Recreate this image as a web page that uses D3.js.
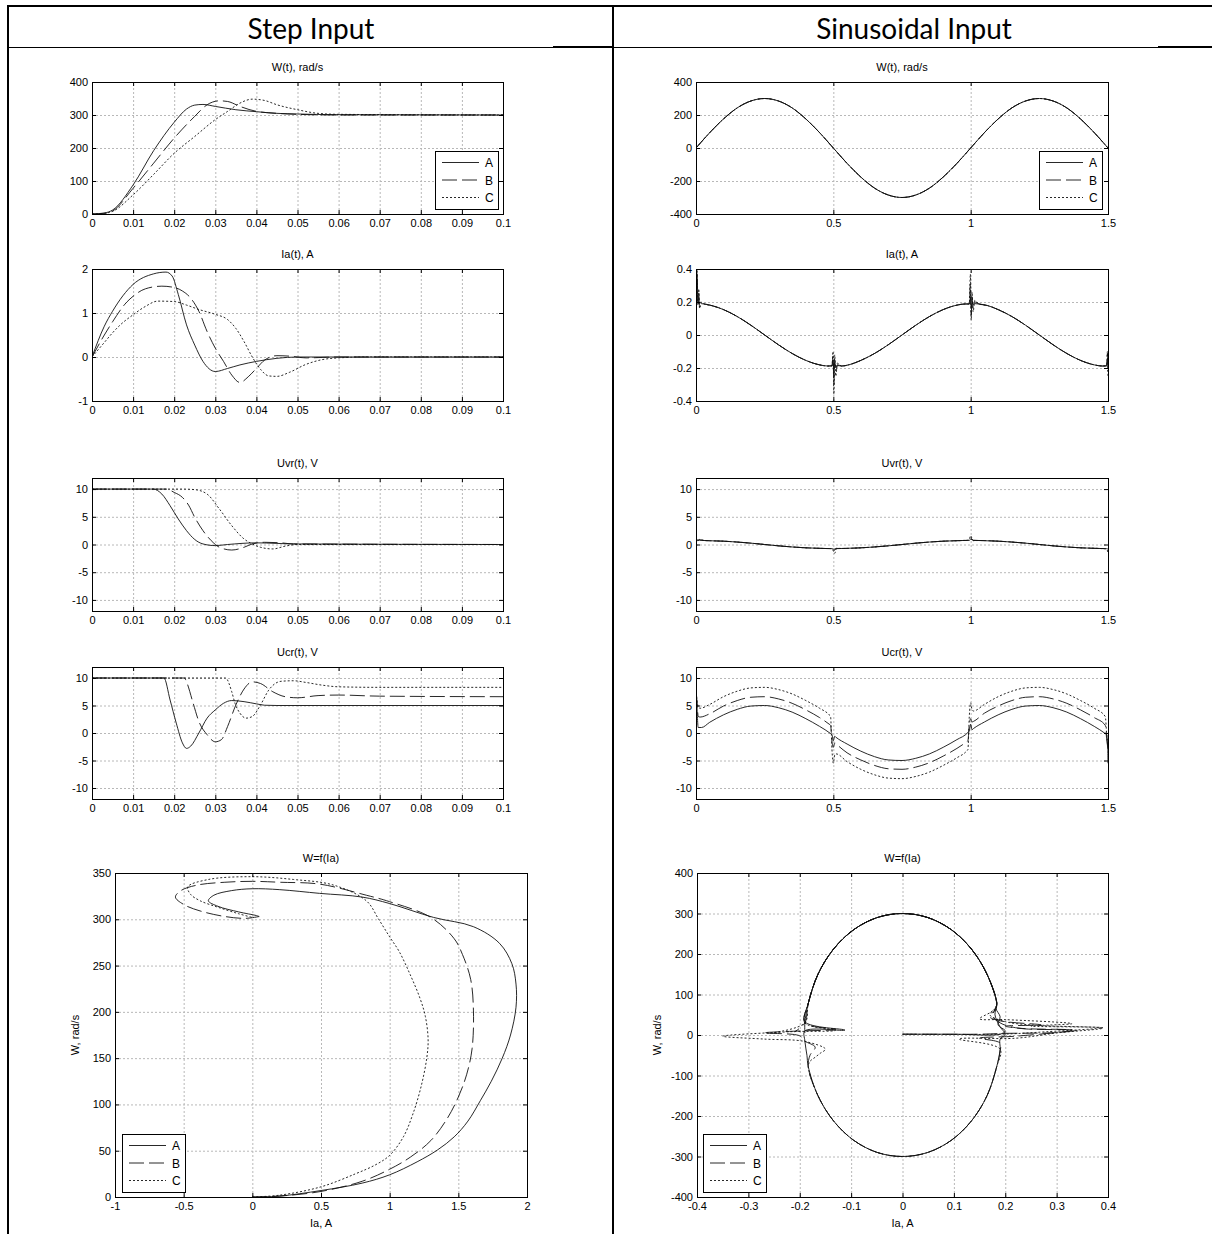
<!DOCTYPE html>
<html>
<head>
<meta charset="utf-8">
<script src="https://cdn.jsdelivr.net/npm/d3@7"></script>
<style>
  body { margin: 0; background: #fff; }
  svg { display: block; }
</style>
</head>
<body>
<svg id="page" width="1212" height="1234"></svg>
<script>
// ---- tick values ----
const stepTimeTicks = [0, 0.01, 0.02, 0.03, 0.04, 0.05, 0.06, 0.07, 0.08, 0.09, 0.1];
const sinTimeTicks = [0, 0.5, 1, 1.5];
const stepWTicks = [0, 100, 200, 300, 400];
const stepIaTicks = [-1, 0, 1, 2];
const voltTicks = [-10, -5, 0, 5, 10];
const sinWTicks = [-400, -200, 0, 200, 400];
const sinIaTicks = [-0.4, -0.2, 0, 0.2, 0.4];
const stepPhaseXTicks = [-1, -0.5, 0, 0.5, 1, 1.5, 2];
const stepPhaseYTicks = [0, 50, 100, 150, 200, 250, 300, 350];
const sinPhaseXTicks = [-0.4, -0.3, -0.2, -0.1, 0, 0.1, 0.2, 0.3, 0.4];
const sinPhaseYTicks = [-400, -300, -200, -100, 0, 100, 200, 300, 400];
const legendNames = ["A", "B", "C"];

// ---- step input: W(t) ----
const stepW_A = [[0,0],[0.003,3],[0.005,12],[0.01,88],[0.015,192],[0.02,278],[0.023,318],[0.025,330],[0.027,332],[0.03,326],[0.035,316],[0.04,310],[0.045,305],[0.05,303],[0.06,301],[0.1,300]];
const stepW_B = [[0,0],[0.003,2],[0.005,9],[0.01,78],[0.015,154],[0.02,230],[0.025,296],[0.028,331],[0.031,343],[0.033,341],[0.036,326],[0.04,311],[0.045,305],[0.05,302],[0.06,300],[0.1,300]];
const stepW_C = [[0,0],[0.003,2],[0.005,8],[0.01,58],[0.015,120],[0.02,184],[0.025,235],[0.03,286],[0.033,311],[0.036,336],[0.039,348],[0.042,344],[0.045,331],[0.05,316],[0.055,305],[0.06,302],[0.1,300]];

// ---- step input: Ia(t) ----
const stepIa_A = [[0,0],[0.003,0.7],[0.005,1.04],[0.01,1.65],[0.015,1.89],[0.018,1.93],[0.0195,1.84],[0.021,1.42],[0.023,0.73],[0.025,0.27],[0.027,-0.1],[0.03,-0.33],[0.033,-0.26],[0.036,-0.18],[0.04,-0.1],[0.045,-0.03],[0.05,0],[0.1,0]];
const stepIa_B = [[0,0],[0.003,0.5],[0.005,0.8],[0.008,1.2],[0.01,1.38],[0.013,1.55],[0.017,1.61],[0.02,1.58],[0.022,1.5],[0.024,1.34],[0.026,1.04],[0.028,0.58],[0.03,0.2],[0.032,-0.1],[0.034,-0.41],[0.036,-0.58],[0.038,-0.45],[0.04,-0.26],[0.042,-0.07],[0.045,0.03],[0.048,0.02],[0.052,-0.02],[0.06,0],[0.1,0]];
const stepIa_C = [[0,0],[0.003,0.33],[0.005,0.55],[0.007,0.74],[0.01,0.96],[0.013,1.15],[0.016,1.27],[0.02,1.26],[0.023,1.18],[0.026,1.08],[0.03,0.97],[0.033,0.85],[0.035,0.65],[0.037,0.35],[0.039,0],[0.041,-0.28],[0.043,-0.43],[0.045,-0.44],[0.048,-0.35],[0.052,-0.17],[0.056,-0.06],[0.06,-0.02],[0.067,0],[0.1,0]];

// ---- step input: Uvr(t) ----
const stepUvr_A = [[0,10],[0.0149,10],[0.017,9.1],[0.019,7],[0.021,4.6],[0.023,2.5],[0.025,0.9],[0.027,0.1],[0.03,-0.2],[0.033,0],[0.04,0.3],[0.045,0.2],[0.049,0.1],[0.1,0]];
const stepUvr_B = [[0,10],[0.018,10],[0.02,9.4],[0.022,8.5],[0.0235,7.1],[0.025,4.9],[0.027,2.5],[0.029,0.7],[0.031,-0.5],[0.034,-1],[0.037,-0.5],[0.039,0.1],[0.042,0.4],[0.046,0.3],[0.049,0.1],[0.1,0]];
const stepUvr_C = [[0,10],[0.022,10],[0.025,9.9],[0.028,9.1],[0.031,6.4],[0.034,3.4],[0.037,1],[0.039,0.1],[0.041,-0.5],[0.044,-0.8],[0.047,-0.3],[0.05,0],[0.1,0]];

// ---- step input: Ucr(t) ----
const stepUcr_A = [[0,10],[0.0175,10],[0.019,6],[0.0205,1.8],[0.022,-1.8],[0.023,-2.8],[0.024,-2.4],[0.026,0],[0.028,2.7],[0.03,4.2],[0.032,5.4],[0.034,5.9],[0.037,5.7],[0.04,5.3],[0.042,5.05],[0.045,5],[0.1,5]];
const stepUcr_B = [[0,10],[0.0225,10],[0.023,9.3],[0.0245,5.7],[0.026,2.1],[0.028,-0.3],[0.03,-1.6],[0.0315,-1.2],[0.033,1.2],[0.035,5.1],[0.037,8],[0.039,9.3],[0.041,9],[0.044,7.5],[0.047,6.6],[0.05,6.4],[0.055,6.8],[0.06,6.9],[0.07,6.7],[0.1,6.6]];
const stepUcr_C = [[0,10],[0.0325,10],[0.034,7.5],[0.0348,5.4],[0.036,3.6],[0.0375,2.7],[0.039,3],[0.041,5.1],[0.043,7.8],[0.046,9.4],[0.049,9.5],[0.052,9.2],[0.056,8.7],[0.06,8.4],[0.07,8.3],[0.1,8.3]];

// ---- step input: W = f(Ia), points as [Ia, W] in time order ----
const stepPhase_A = [[0,0],[0.2,1],[0.5,7],[0.8,15],[1.0,24],[1.2,38],[1.35,51],[1.47,65],[1.57,82],[1.66,104],[1.74,125],[1.82,150],[1.88,175],[1.92,205],[1.92,230],[1.89,252],[1.8,274],[1.61,292],[1.32,302],[1.0,317],[0.8,324],[0.49,328],[0.2,332],[0,333],[-0.15,331],[-0.28,326],[-0.32,320],[-0.25,314],[-0.1,308],[0.03,304],[0.05,303]];
const stepPhase_B = [[0,0],[0.2,1],[0.5,6],[0.8,17],[1.0,30],[1.15,43],[1.3,61],[1.42,85],[1.5,108],[1.56,132],[1.6,160],[1.61,201],[1.59,235],[1.53,262],[1.47,279],[1.3,302],[1.0,319],[0.83,326],[0.49,338],[0.2,340],[0,341],[-0.2,340],[-0.4,337],[-0.52,331],[-0.56,324],[-0.5,316],[-0.38,309],[-0.2,303],[-0.05,301],[0.05,303]];
const stepPhase_C = [[0,0],[0.2,2],[0.5,11],[0.75,25],[0.9,35],[1.0,45],[1.1,65],[1.17,90],[1.23,120],[1.27,150],[1.28,170],[1.26,195],[1.22,215],[1.15,240],[1.07,265],[1.0,281],[0.92,300],[0.83,320],[0.59,337],[0.3,343],[0,346],[-0.32,343],[-0.47,335],[-0.45,327],[-0.38,320],[-0.25,313],[-0.1,306],[0,302]];

// ---- sinusoidal input: W(t), all three coincide ----
const sinW = [[0,0],[0.05,93],[0.1,176],[0.15,243],[0.2,285],[0.25,300],[0.3,285],[0.35,243],[0.4,176],[0.45,93],[0.5,0],[0.55,-93],[0.6,-176],[0.65,-243],[0.7,-285],[0.75,-300],[0.8,-285],[0.85,-243],[0.9,-176],[0.95,-93],[1.0,0],[1.05,93],[1.1,176],[1.15,243],[1.2,285],[1.25,300],[1.3,285],[1.35,243],[1.4,176],[1.45,93],[1.5,0]];

// ---- sinusoidal input: Ia(t), common part + transients ----
const sinIaBase = [[0.03,0.188],[0.06,0.177],[0.1,0.154],[0.15,0.112],[0.2,0.059],[0.25,0],[0.3,-0.059],[0.35,-0.112],[0.4,-0.154],[0.45,-0.181],[0.48,-0.188],[0.53,-0.188],[0.56,-0.179],[0.6,-0.154],[0.65,-0.112],[0.7,-0.059],[0.75,0],[0.8,0.059],[0.85,0.112],[0.9,0.154],[0.95,0.181],[0.98,0.188],[1.03,0.188],[1.06,0.179],[1.1,0.154],[1.15,0.112],[1.2,0.059],[1.25,0],[1.3,-0.059],[1.35,-0.112],[1.4,-0.154],[1.45,-0.181],[1.48,-0.188]];
const sinIaSpike_A = [[0,0],[0.002,0.2],[0.004,0.33],[0.007,0.22],[0.01,0.19],[0.015,0.2],[0.02,0.19],[0.495,-0.187],[0.499,-0.15],[0.502,-0.22],[0.506,-0.18],[0.51,-0.19],[0.515,-0.185],[0.995,0.188],[0.999,0.23],[1.002,0.16],[1.006,0.2],[1.01,0.185],[1.015,0.19],[1.495,-0.187],[1.498,-0.14],[1.5,-0.2]];
const sinIaSpike_B = [[0,0],[0.002,0.25],[0.004,0.37],[0.007,0.2],[0.01,0.26],[0.013,0.17],[0.02,0.19],[0.495,-0.187],[0.499,-0.13],[0.502,-0.3],[0.505,-0.15],[0.509,-0.22],[0.515,-0.18],[0.995,0.188],[0.999,0.31],[1.002,0.12],[1.005,0.23],[1.009,0.16],[1.015,0.2],[1.495,-0.187],[1.498,-0.11],[1.5,-0.22]];
const sinIaSpike_C = [[0,0],[0.002,0.3],[0.004,0.4],[0.007,0.18],[0.01,0.28],[0.013,0.16],[0.02,0.2],[0.495,-0.187],[0.499,-0.1],[0.502,-0.36],[0.505,-0.12],[0.509,-0.25],[0.515,-0.17],[0.995,0.188],[0.999,0.37],[1.002,0.09],[1.005,0.26],[1.009,0.14],[1.015,0.21],[1.495,-0.187],[1.498,-0.1],[1.5,-0.26]];

// ---- sinusoidal input: Uvr(t) ----
const sinUvrBase = [[0.03,0.72],[0.1,0.6],[0.2,0.24],[0.25,0],[0.3,-0.24],[0.4,-0.6],[0.47,-0.72],[0.53,-0.72],[0.6,-0.6],[0.7,-0.24],[0.75,0],[0.8,0.24],[0.9,0.6],[0.97,0.72],[1.03,0.72],[1.1,0.6],[1.2,0.24],[1.25,0],[1.3,-0.24],[1.4,-0.6],[1.47,-0.72]];
const sinUvrSpike_A = [[0,1.0],[0.006,0.8],[0.012,0.78],[0.495,-0.75],[0.502,-0.85],[0.51,-0.75],[0.995,0.75],[1.0,0.95],[1.01,0.78],[1.495,-0.75],[1.5,-0.85]];
const sinUvrSpike_B = [[0,1.1],[0.006,0.7],[0.012,0.85],[0.495,-0.75],[0.503,-1.1],[0.51,-0.7],[0.995,0.75],[1.0,1.2],[1.01,0.72],[1.495,-0.75],[1.5,-1.1]];
const sinUvrSpike_C = [[0,1.2],[0.006,0.65],[0.012,0.9],[0.495,-0.75],[0.505,-1.6],[0.512,-0.7],[0.995,0.8],[0.999,1.6],[1.01,0.7],[1.495,-0.8],[1.5,-1.5]];

// ---- sinusoidal input: Ucr(t) ----
const sinUcr_A = [[0,0.5],[0.002,6.7],[0.005,3],[0.008,1],[0.02,1.0],[0.05,1.95],[0.1,3.3],[0.15,4.3],[0.2,4.9],[0.25,5.0],[0.3,4.6],[0.35,3.8],[0.4,2.6],[0.45,1.2],[0.49,-0.1],[0.495,-0.3],[0.5,-1.4],[0.505,-0.6],[0.51,-0.8],[0.55,-2.0],[0.6,-3.3],[0.65,-4.3],[0.7,-4.9],[0.75,-5.0],[0.8,-4.6],[0.85,-3.8],[0.9,-2.6],[0.95,-1.2],[0.99,0.1],[0.995,0.4],[1.0,1.6],[1.005,0.6],[1.01,0.8],[1.05,2.0],[1.1,3.3],[1.15,4.3],[1.2,4.9],[1.25,5.0],[1.3,4.6],[1.35,3.8],[1.4,2.6],[1.45,1.2],[1.49,-0.1],[1.495,-0.3],[1.499,-3],[1.5,-5.5]];
const sinUcr_B = [[0,1],[0.002,6],[0.005,4.5],[0.008,3],[0.015,2.9],[0.05,3.5],[0.1,4.9],[0.15,5.9],[0.2,6.5],[0.25,6.6],[0.3,6.2],[0.35,5.4],[0.4,4.2],[0.45,2.8],[0.485,1.6],[0.49,1.4],[0.495,-1.5],[0.5,-2.6],[0.505,-1.8],[0.51,-2.0],[0.55,-3.6],[0.6,-4.9],[0.65,-5.9],[0.7,-6.5],[0.75,-6.6],[0.8,-6.2],[0.85,-5.4],[0.9,-4.2],[0.95,-2.8],[0.985,-1.6],[0.99,-1.4],[0.995,1.5],[1.0,2.6],[1.005,2.0],[1.01,2.1],[1.05,3.6],[1.1,4.9],[1.15,5.9],[1.2,6.5],[1.25,6.6],[1.3,6.2],[1.35,5.4],[1.4,4.2],[1.45,2.8],[1.49,1.4],[1.495,-1.0],[1.5,-3]];
const sinUcr_C = [[0,2],[0.002,6.5],[0.005,5.5],[0.01,4.6],[0.015,4.5],[0.05,5.2],[0.1,6.6],[0.15,7.6],[0.2,8.2],[0.25,8.3],[0.3,7.9],[0.35,7.1],[0.4,5.9],[0.45,4.5],[0.485,3.3],[0.49,3.0],[0.495,-3],[0.5,-5.5],[0.505,-4],[0.51,-3.8],[0.55,-5.2],[0.6,-6.6],[0.65,-7.6],[0.7,-8.2],[0.75,-8.3],[0.8,-7.9],[0.85,-7.1],[0.9,-5.9],[0.95,-4.5],[0.985,-3.3],[0.99,-3.0],[0.995,3],[1.0,5.5],[1.005,4.2],[1.01,4.0],[1.05,5.2],[1.1,6.6],[1.15,7.6],[1.2,8.2],[1.25,8.3],[1.3,7.9],[1.35,7.1],[1.4,5.9],[1.45,4.5],[1.49,3.0],[1.495,0],[1.5,-3]];

// ---- sinusoidal input: W = f(Ia) ----
const ellipseUpper = [[0.1835,77.6],[0.1645,150],[0.1343,212],[0.095,260],[0.0492,290],[0,300],[-0.0492,290],[-0.095,260],[-0.1343,212],[-0.1645,150],[-0.1835,77.6]];
const ellipseLower = [[-0.1835,-77.6],[-0.1645,-150],[-0.1343,-212],[-0.095,-260],[-0.0492,-290],[0,-300],[0.0492,-290],[0.095,-260],[0.1343,-212],[0.1645,-150],[0.1835,-77.6]];
const sinPhaseStart_A = [[0,2],[0.1,2],[0.19,2],[0.2,10],[0.186,25],[0.19,45],[0.182,65]];
const sinPhaseStart_B = [[0,2],[0.15,2],[0.2,4],[0.3,6],[0.34,12],[0.24,15],[0.2,22],[0.27,25],[0.19,35],[0.17,45],[0.18,62]];
const sinPhaseStart_C = [[0,2],[0.19,2],[0.28,8],[0.39,18],[0.25,22],[0.33,28],[0.2,38],[0.15,40],[0.17,55],[0.18,65]];
const sinPhaseLeft_A = [[-0.19,33],[-0.112,12],[-0.19,10],[-0.19,-15],[-0.186,-50]];
const sinPhaseLeft_B = [[-0.19,30],[-0.13,14],[-0.2,10],[-0.27,5],[-0.2,-2],[-0.19,-15],[-0.17,-30],[-0.18,-50]];
const sinPhaseLeft_C = [[-0.19,30],[-0.13,12],[-0.22,8],[-0.35,-3],[-0.27,-10],[-0.19,-16],[-0.15,-35],[-0.16,-45],[-0.17,-55],[-0.18,-65]];
const sinPhaseRight_A = [[0.19,-35],[0.19,-10],[0.2,2],[0.19,20],[0.18,50]];
const sinPhaseRight_B = [[0.19,-40],[0.19,-20],[0.15,-8],[0.22,-3],[0.33,12],[0.22,18],[0.19,30],[0.175,48],[0.18,62]];
const sinPhaseRight_C = [[0.19,-35],[0.11,-10],[0.22,-8],[0.3,5],[0.39,17],[0.26,24],[0.2,33],[0.17,50],[0.18,65]];
const sinPhaseEnd_A = [[-0.19,30],[-0.19,5]];
const sinPhaseEnd_B = [[-0.19,30],[-0.21,8]];
const sinPhaseEnd_C = [[-0.19,30],[-0.25,6]];

// merge typed pieces by time
const byTime = (a, b) => a.concat(b).sort((p, q) => p[0] - q[0]);

const svg = d3.select("#page");
const defs = svg.append("defs");
const axisFont = "'Liberation Sans', Arial, sans-serif";
const headFont = "Lato, 'Open Sans', sans-serif";
const dashes = [null, "15,5", "2,2"];
let clipCount = 0;

// table frame
svg.append("line").attr("x1", 7).attr("x2", 1212).attr("y1", 6).attr("y2", 6).attr("stroke", "#000").attr("stroke-width", 2);
svg.append("line").attr("x1", 8).attr("x2", 8).attr("y1", 5).attr("y2", 1234).attr("stroke", "#000").attr("stroke-width", 2);
svg.append("line").attr("x1", 613).attr("x2", 613).attr("y1", 5).attr("y2", 1234).attr("stroke", "#000").attr("stroke-width", 2);
svg.append("line").attr("x1", 8).attr("x2", 1212).attr("y1", 47.5).attr("y2", 47.5).attr("stroke", "#000").attr("stroke-width", 1);
svg.append("line").attr("x1", 553).attr("x2", 612).attr("y1", 46.5).attr("y2", 46.5).attr("stroke", "#000").attr("stroke-width", 1);
svg.append("line").attr("x1", 1158).attr("x2", 1212).attr("y1", 46.5).attr("y2", 46.5).attr("stroke", "#000").attr("stroke-width", 1);

svg.append("text").attr("x", 311).attr("y", 39).attr("text-anchor", "middle")
  .style("font-family", headFont).style("font-size", "28px").text("Step Input");
svg.append("text").attr("x", 914).attr("y", 39).attr("text-anchor", "middle")
  .style("font-family", headFont).style("font-size", "28px").text("Sinusoidal Input");

function styleAxis(sel) {
  sel.select(".domain").remove();
  sel.selectAll("line").attr("stroke", "#000");
  sel.selectAll("text").style("font-family", axisFont).style("font-size", "11px").attr("fill", "#000");
}

function drawPanel(o) {
  const g = svg.append("g");
  const x = d3.scaleLinear().domain(o.xd).range([o.l, o.r]);
  const y = d3.scaleLinear().domain(o.yd).range([o.b, o.t]);
  const w = o.r - o.l, h = o.b - o.t;

  // grid
  g.append("g").attr("transform", `translate(0,${o.b})`)
    .call(d3.axisBottom(x).tickValues(o.xt).tickSize(-h).tickFormat(""))
    .call(s => { s.select(".domain").remove(); s.selectAll("line").attr("stroke", "#b8b8b8").attr("stroke-dasharray", "2,2"); });
  g.append("g").attr("transform", `translate(${o.l},0)`)
    .call(d3.axisLeft(y).tickValues(o.yt).tickSize(-w).tickFormat(""))
    .call(s => { s.select(".domain").remove(); s.selectAll("line").attr("stroke", "#b8b8b8").attr("stroke-dasharray", "2,2"); });

  // data lines
  const cid = "clip" + (clipCount++);
  defs.append("clipPath").attr("id", cid).append("rect")
    .attr("x", o.l).attr("y", o.t).attr("width", w).attr("height", h);
  const line = d3.line().x(d => x(d[0])).y(d => y(d[1])).curve(o.curve);
  o.series.forEach((s, i) => {
    g.append("path").attr("d", line(s)).attr("fill", "none")
      .attr("stroke", "#111").attr("stroke-width", 0.9)
      .attr("stroke-dasharray", dashes[i]).attr("clip-path", `url(#${cid})`);
  });

  // box and ticks
  g.append("rect").attr("x", o.l + 0.5).attr("y", o.t + 0.5).attr("width", w).attr("height", h)
    .attr("fill", "none").attr("stroke", "#000");
  g.append("g").attr("transform", `translate(0,${o.b})`)
    .call(d3.axisBottom(x).tickValues(o.xt).tickSize(-4).tickPadding(5).tickFormat(d => String(d))).call(styleAxis);
  g.append("g").attr("transform", `translate(0,${o.t})`)
    .call(d3.axisTop(x).tickValues(o.xt).tickSize(-4).tickFormat("")).call(styleAxis);
  g.append("g").attr("transform", `translate(${o.l},0)`)
    .call(d3.axisLeft(y).tickValues(o.yt).tickSize(-4).tickPadding(4).tickFormat(d => String(d))).call(styleAxis);
  g.append("g").attr("transform", `translate(${o.r},0)`)
    .call(d3.axisRight(y).tickValues(o.yt).tickSize(-4).tickFormat("")).call(styleAxis);

  // labels
  g.append("text").attr("x", (o.l + o.r) / 2).attr("y", o.t - 11).attr("text-anchor", "middle")
    .style("font-family", axisFont).style("font-size", "11px").text(o.title);
  if (o.xlabel) {
    g.append("text").attr("x", (o.l + o.r) / 2).attr("y", o.b + 30).attr("text-anchor", "middle")
      .style("font-family", axisFont).style("font-size", "11px").text(o.xlabel);
  }
  if (o.ylabel) {
    g.append("text").attr("transform", `translate(${o.l - 36},${(o.t + o.b) / 2}) rotate(-90)`)
      .attr("text-anchor", "middle").style("font-family", axisFont).style("font-size", "11px").text(o.ylabel);
  }

  // legend
  if (o.legend) {
    const [lx, ly] = o.legend;
    const lg = g.append("g").attr("transform", `translate(${lx},${ly})`);
    lg.append("rect").attr("x", 0.5).attr("y", 0.5).attr("width", 63).attr("height", 58)
      .attr("fill", "#fff").attr("stroke", "#000");
    legendNames.forEach((name, i) => {
      const yy = 11.5 + i * 17.5;
      lg.append("line").attr("x1", 7).attr("x2", 44).attr("y1", yy).attr("y2", yy)
        .attr("stroke", "#111").attr("stroke-width", 0.9).attr("stroke-dasharray", dashes[i]);
      lg.append("text").attr("x", 50).attr("y", yy + 4.5)
        .style("font-family", axisFont).style("font-size", "12px").text(name);
    });
  }
}

const timeCurve = d3.curveMonotoneX;
const phaseCurve = d3.curveCatmullRom.alpha(0.5);
const rowTop = [82, 269, 478, 667], rowBottom = [214, 401, 611, 799];

// left column: step input
drawPanel({ l: 92, r: 503, t: rowTop[0], b: rowBottom[0], xd: [0, 0.1], yd: [0, 400], xt: stepTimeTicks, yt: stepWTicks,
  title: "W(t), rad/s", series: [stepW_A, stepW_B, stepW_C], curve: timeCurve, legend: [435, 151] });
drawPanel({ l: 92, r: 503, t: rowTop[1], b: rowBottom[1], xd: [0, 0.1], yd: [-1, 2], xt: stepTimeTicks, yt: stepIaTicks,
  title: "Ia(t), A", series: [stepIa_A, stepIa_B, stepIa_C], curve: timeCurve });
drawPanel({ l: 92, r: 503, t: rowTop[2], b: rowBottom[2], xd: [0, 0.1], yd: [-12, 12], xt: stepTimeTicks, yt: voltTicks,
  title: "Uvr(t), V", series: [stepUvr_A, stepUvr_B, stepUvr_C], curve: timeCurve });
drawPanel({ l: 92, r: 503, t: rowTop[3], b: rowBottom[3], xd: [0, 0.1], yd: [-12, 12], xt: stepTimeTicks, yt: voltTicks,
  title: "Ucr(t), V", series: [stepUcr_A, stepUcr_B, stepUcr_C], curve: timeCurve });
drawPanel({ l: 115, r: 527, t: 873, b: 1197, xd: [-1, 2], yd: [0, 350], xt: stepPhaseXTicks, yt: stepPhaseYTicks,
  title: "W=f(Ia)", xlabel: "Ia, A", ylabel: "W, rad/s",
  series: [stepPhase_A, stepPhase_B, stepPhase_C], curve: phaseCurve, legend: [122, 1134] });

// right column: sinusoidal input
drawPanel({ l: 696, r: 1108, t: rowTop[0], b: rowBottom[0], xd: [0, 1.5], yd: [-400, 400], xt: sinTimeTicks, yt: sinWTicks,
  title: "W(t), rad/s", series: [sinW, sinW, sinW], curve: timeCurve, legend: [1039, 151] });
drawPanel({ l: 696, r: 1108, t: rowTop[1], b: rowBottom[1], xd: [0, 1.5], yd: [-0.4, 0.4], xt: sinTimeTicks, yt: sinIaTicks,
  title: "Ia(t), A", series: [byTime(sinIaBase, sinIaSpike_A), byTime(sinIaBase, sinIaSpike_B), byTime(sinIaBase, sinIaSpike_C)], curve: timeCurve });
drawPanel({ l: 696, r: 1108, t: rowTop[2], b: rowBottom[2], xd: [0, 1.5], yd: [-12, 12], xt: sinTimeTicks, yt: voltTicks,
  title: "Uvr(t), V", series: [byTime(sinUvrBase, sinUvrSpike_A), byTime(sinUvrBase, sinUvrSpike_B), byTime(sinUvrBase, sinUvrSpike_C)], curve: timeCurve });
drawPanel({ l: 696, r: 1108, t: rowTop[3], b: rowBottom[3], xd: [0, 1.5], yd: [-12, 12], xt: sinTimeTicks, yt: voltTicks,
  title: "Ucr(t), V", series: [sinUcr_A, sinUcr_B, sinUcr_C], curve: timeCurve });
drawPanel({ l: 697, r: 1108, t: 873, b: 1197, xd: [-0.4, 0.4], yd: [-400, 400], xt: sinPhaseXTicks, yt: sinPhaseYTicks,
  title: "W=f(Ia)", xlabel: "Ia, A", ylabel: "W, rad/s",
  series: [
    [].concat(sinPhaseStart_A, ellipseUpper, sinPhaseLeft_A, ellipseLower, sinPhaseRight_A, ellipseUpper, sinPhaseEnd_A),
    [].concat(sinPhaseStart_B, ellipseUpper, sinPhaseLeft_B, ellipseLower, sinPhaseRight_B, ellipseUpper, sinPhaseEnd_B),
    [].concat(sinPhaseStart_C, ellipseUpper, sinPhaseLeft_C, ellipseLower, sinPhaseRight_C, ellipseUpper, sinPhaseEnd_C)
  ], curve: phaseCurve, legend: [703, 1134] });
</script>
</body>
</html>
